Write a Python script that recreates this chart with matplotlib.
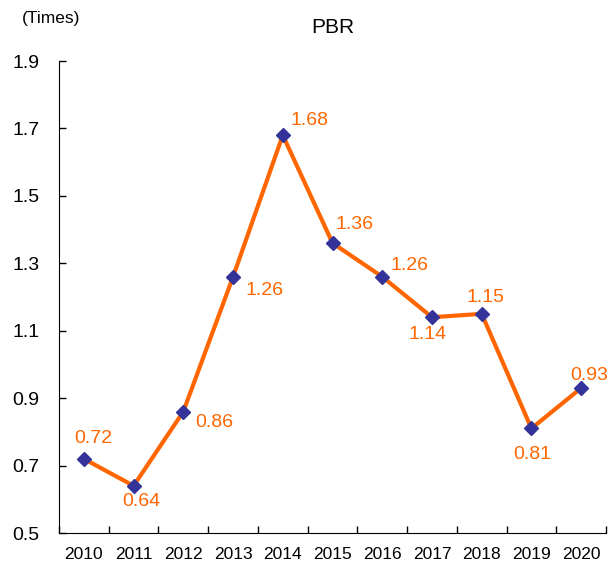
import matplotlib
matplotlib.use("Agg")
import matplotlib.pyplot as plt

years = ["2010", "2011", "2012", "2013", "2014", "2015", "2016", "2017", "2018", "2019", "2020"]
pbr = [0.72, 0.64, 0.86, 1.26, 1.68, 1.36, 1.26, 1.14, 1.15, 0.81, 0.93]
yticks = [0.5, 0.7, 0.9, 1.1, 1.3, 1.5, 1.7, 1.9]

# label offsets in pixels (dx, dy) relative to each marker
offsets = [(9, 20), (8, -16), (31, -11), (31, -14), (27, 15), (22, 19),
           (27, 11), (-4, -17), (4, 16), (1, -26), (8, 13)]

plt.rcParams["font.family"] = ["Liberation Sans", "DejaVu Sans"]

fig = plt.figure(figsize=(6.08, 5.66), dpi=100)
ax = fig.add_axes([59 / 608, 33 / 566, 547 / 608, 472 / 566])

x = list(range(len(years)))
ax.plot(x, pbr, color="#FF6600", lw=3, zorder=2)
ax.plot(x, pbr, ls="none", marker="D", ms=7, color="#333399", zorder=3)

for xi, v, (dx, dy) in zip(x, pbr, offsets):
    ax.annotate(f"{v:.2f}", (xi, v), xytext=(dx * 0.72, dy * 0.72),
                textcoords="offset points", ha="center", va="center",
                color="#FF6600", fontsize=14)

ax.set_xlim(-0.5, len(years) - 0.5)
ax.set_ylim(0.5, 1.9)
ax.set_yticks(yticks)
ax.set_yticklabels([f"{t:.1f}" for t in yticks], fontsize=14)
ax.set_xticks([i - 0.5 for i in range(len(years) + 1)])
ax.set_xticklabels([])
ax.set_xticks(x, minor=True)
ax.set_xticklabels(years, minor=True, fontsize=12.5)
ax.tick_params(axis="x", which="minor", length=0, pad=10)
ax.tick_params(axis="both", which="major", direction="in", length=5, width=1)
ax.tick_params(axis="y", pad=14)

ax.spines["top"].set_visible(False)
ax.spines["right"].set_visible(False)

ax.set_title("PBR", fontsize=15, pad=20)
fig.text(22 / 608, 1 - 18 / 566, "(Times)", fontsize=12.5, va="center", ha="left")

fig.savefig("out.png", dpi=100)
